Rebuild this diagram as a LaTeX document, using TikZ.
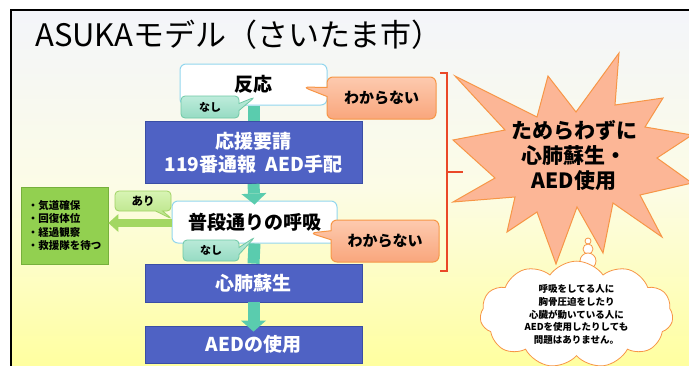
\documentclass[tikz,border=0pt]{standalone}
\usepackage{fontspec}
\setmainfont{Noto Sans CJK JP}
\usetikzlibrary{arrows.meta,shapes.callouts,shapes.symbols}
\definecolor{cLightEdge}{RGB}{146,214,238}
\definecolor{cBlue}{RGB}{79,98,196}
\definecolor{cBlueEdge}{RGB}{58,78,165}
\definecolor{cTeal}{RGB}{90,204,174}
\definecolor{cNashiTop}{RGB}{190,236,219}
\definecolor{cNashiBot}{RGB}{150,219,195}
\definecolor{cNashiEdge}{RGB}{110,200,165}
\definecolor{cAriTop}{RGB}{216,244,180}
\definecolor{cAriBot}{RGB}{183,227,132}
\definecolor{cAriEdge}{RGB}{160,210,100}
\definecolor{cWakaTop}{RGB}{253,202,175}
\definecolor{cWakaBot}{RGB}{249,166,124}
\definecolor{cOrange}{RGB}{247,150,70}
\definecolor{cStar}{RGB}{252,182,150}
\definecolor{cRed}{RGB}{234,72,40}
\definecolor{cGreen}{RGB}{146,208,80}
\definecolor{cGreenEdge}{RGB}{118,176,60}
\definecolor{cArrowGreen}{RGB}{163,215,98}
\definecolor{cBgTop}{RGB}{243,245,250}
\definecolor{cBgMid}{RGB}{252,252,230}
\definecolor{cBgBot}{RGB}{255,255,160}
\begin{document}
\begin{tikzpicture}[x=1pt,y=-1pt,
  wbox/.style={draw=cLightEdge, line width=1pt, fill=white, rounded corners=6pt, inner sep=0pt,
    font=\fontsize{19}{23}\selectfont\bfseries},
  bbox/.style={draw=cBlueEdge, line width=0.8pt, fill=cBlue, text=white, minimum width=217pt,
    inner sep=0pt, align=center, font=\fontsize{19}{23}\selectfont\bfseries},
  tealbar/.style={draw=cTeal, line width=12pt},
  tealarrow/.style={draw=cTeal, line width=12pt,
    -{Triangle[width=25pt,length=11pt,line width=0pt]}},
  greenarrow/.style={draw=cArrowGreen, line width=8pt,
    -{Triangle[width=18pt,length=10pt,line width=0pt]}},
  nashi/.style={rectangle callout, rounded corners=4pt, draw=cNashiEdge, line width=0.8pt,
    top color=cNashiTop, bottom color=cNashiBot, inner sep=0pt,
    callout pointer width=7pt, font=\fontsize{11}{13}\selectfont\bfseries},
  ari/.style={rectangle callout, rounded corners=4pt, draw=cAriEdge, line width=0.8pt,
    top color=cAriTop, bottom color=cAriBot, inner sep=0pt,
    callout pointer width=7pt, font=\fontsize{11.5}{13}\selectfont\bfseries},
  waka/.style={rectangle callout, rounded corners=6pt, draw=cOrange, line width=1pt,
    top color=cWakaTop, bottom color=cWakaBot, inner sep=0pt,
    minimum width=109pt, minimum height=42pt,
    callout pointer width=9pt, font=\fontsize{15}{18}\selectfont\bfseries},
  brk/.style={draw=cRed, line width=1.5pt},
  puff/.style={draw=cOrange, line width=0.8pt, fill=white}
]
\useasboundingbox (0,0) rectangle (689,365);
% background
\fill[white] (0,0) rectangle (689,365);
\shade[top color=cBgTop, bottom color=cBgBot, middle color=cBgMid] (11,10) rectangle (689,365);
\draw[line width=2pt, line cap=rect] (11,365) -- (11,10) -- (689,10);

% title
\node[anchor=base west, inner sep=0pt, font=\fontsize{31}{36}\selectfont] (title) at (35,46)
  {ASUKAモデル（さいたま市）};

% main flow boxes
\node[wbox, minimum width=147pt, minimum height=41pt] (hanno) at (253.5,84.5) {反応};
\node[bbox, minimum height=62pt] (req) at (253.5,152.5)
  {応援要請\\119番通報\hspace{0.5em}AED手配};
\node[wbox, minimum width=165pt, minimum height=42pt] (fudan) at (254.5,222) {普段通りの呼吸};
\node[bbox, minimum height=38pt] (cpr) at (253.5,283) {心肺蘇生};
\node[bbox, minimum height=37pt] (aed) at (253.5,344.5) {AEDの使用};

% green box
\node[draw=cGreenEdge, line width=0.8pt, fill=cGreen, minimum width=87pt, minimum height=77pt,
  inner sep=0pt, align=left, font=\fontsize{10.5}{13.3}\selectfont\bfseries] (care) at (64.5,225.5)
  {・気道確保\\・回復体位\\・経過観察\\・救援隊を待つ};

% connectors
\draw[tealbar] (hanno.south) -- (req.north);
\draw[tealarrow] (req.south) -- ([yshift=-4pt]fudan.north);
\draw[tealbar] (fudan.south) -- (cpr.north);
\draw[tealarrow] (cpr.south) -- ([yshift=-6pt]aed.north);
\draw[greenarrow] ([yshift=-1pt]fudan.west) -- ([yshift=-1pt]fudan.west -| care.east);

% callouts
\node[nashi, minimum width=58pt, minimum height=22pt, callout absolute pointer={(255,97)}]
  (nashiA) at (210,107) {なし};
\node[nashi, minimum width=56pt, minimum height=21pt, callout absolute pointer={(255,237)}]
  (nashiB) at (211,250.5) {なし};
\node[ari, minimum width=56pt, minimum height=20pt, callout absolute pointer={(172,219)}]
  (ari) at (143,201) {あり};
\node[waka, callout absolute pointer={(303,87)}] (wakaA) at (381.5,98) {わからない};
\node[waka, minimum width=108pt, callout absolute pointer={(310,233)}] (wakaB) at (385,241) {わからない};

% red bracket
\draw[brk] (440,73) -- (447,73) -- (447,271) -- (440,271);
\draw[brk] (447,172) -- (463,172);

% starburst
\filldraw[fill=cStar, draw=cOrange, line width=1pt, line join=miter]
  (455,76) -- (537,117) -- (548,76) -- (576,112) -- (619,53) -- (615,105) -- (663,98)
  -- (645,127) -- (692,135) -- (657,158) -- (692,183) -- (640,195) -- (662,237)
  -- (613,203) -- (603,253) -- (577,207) -- (556,264) -- (537,212) -- (507,232)
  -- (515,197) -- (453,202) -- (495,178) -- (453,140) -- (505,130) -- cycle;
\node[align=center, inner sep=0pt, font=\fontsize{21}{25}\selectfont\bfseries] (star) at (574,155)
  {ためらわずに\\心肺蘇生・\\AED使用};

% thought bubble
\filldraw[puff] (588,241) circle (3pt);
\filldraw[puff] (588,249) circle (5pt);
\filldraw[puff] (588,261) circle (8pt);
\node[cloud, cloud puffs=11, cloud puff arc=110, aspect=2, draw=cOrange, line width=0.8pt, fill=white,
  minimum width=193pt, minimum height=95pt, inner sep=0pt, align=center,
  font=\fontsize{9.5}{12.8}\selectfont\bfseries] (cloud) at (576.5,314.5)
  {呼吸をしてる人に\\胸骨圧迫をしたり\\心臓が動いている人に\\AEDを使用したりしても\\問題はありません。};
\end{tikzpicture}
\end{document}
